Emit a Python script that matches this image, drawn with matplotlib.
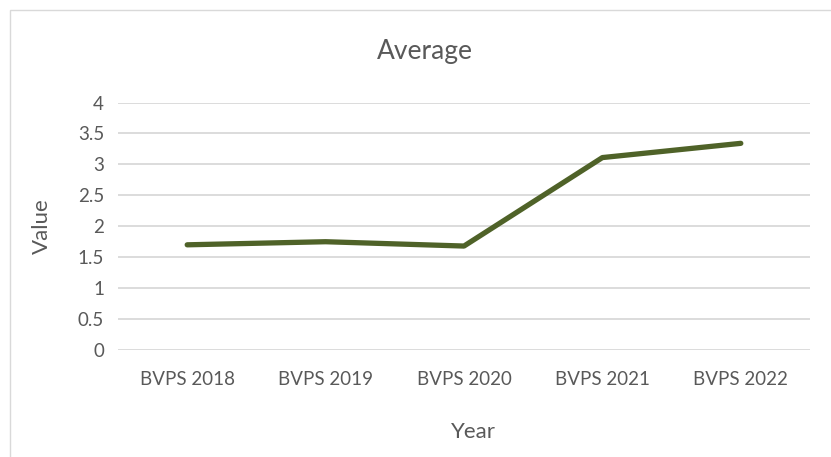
import matplotlib.pyplot as plt
from matplotlib.patches import Rectangle

plt.rcParams['font.family'] = ['Lato', 'DejaVu Sans']

categories = ['BVPS 2018', 'BVPS 2019', 'BVPS 2020', 'BVPS 2021', 'BVPS 2022']
values = [1.70, 1.75, 1.68, 3.11, 3.34]
y_ticks = [0, 0.5, 1, 1.5, 2, 2.5, 3, 3.5, 4]

text_color = '#595959'
line_color = '#4F6228'

fig = plt.figure(figsize=(8.31, 4.57), dpi=100)
W, H = 831, 457
ax = fig.add_axes([118 / W, 1 - 350 / H, (810 - 118) / W, (350 - 102.5) / H])

# chart border (cropped at right and bottom)
fig.patches.append(Rectangle((10 / W, -0.1), 1.2, 1 - 10 / H + 0.1,
                             transform=fig.transFigure, fill=False,
                             edgecolor='#D9D9D9', linewidth=1))

x = list(range(len(categories)))
ax.plot(x, values, color=line_color, linewidth=3.8, solid_capstyle='round')

ax.set_xlim(-0.5, len(categories) - 0.5)
ax.set_ylim(0, 4)
ax.set_yticks(y_ticks)
ax.set_yticklabels([f'{t:g}' for t in y_ticks])
ax.set_xticks(x)
ax.set_xticklabels(categories)
ax.grid(axis='y', color='#D9D9D9', linewidth=1.3)
ax.set_axisbelow(True)
for s in ax.spines.values():
    s.set_visible(False)
ax.tick_params(length=0, colors=text_color, labelsize=13.5)
ax.tick_params(axis='x', pad=15)
ax.tick_params(axis='y', pad=10)

ax.set_xlabel('Year', fontsize=16, color=text_color, va='center')
ax.xaxis.set_label_coords(473 / W, 1 - 432 / H, transform=fig.transFigure)
ax.set_ylabel('Value', fontsize=16, color=text_color, va='center')
ax.yaxis.set_label_coords(42 / W, 1 - 226 / H, transform=fig.transFigure)
fig.text(425 / W, 1 - 52 / H, 'Average', fontsize=19, color=text_color,
         ha='center', va='center')

fig.savefig('out.png', dpi=100)
